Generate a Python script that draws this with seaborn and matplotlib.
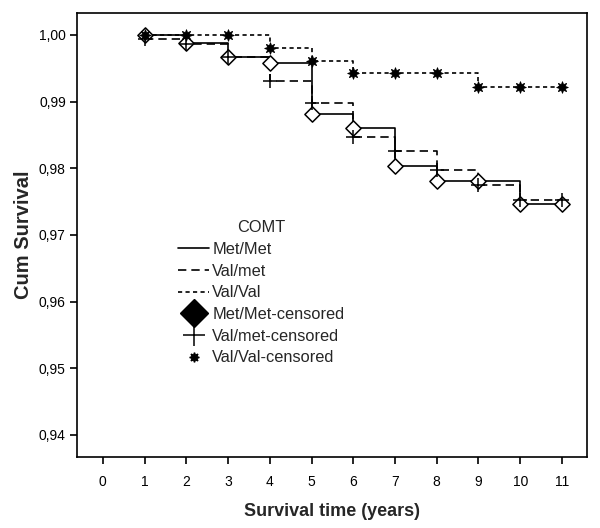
import matplotlib
matplotlib.use("Agg")
import matplotlib.pyplot as plt
from matplotlib.lines import Line2D
import seaborn as sns
import pandas as pd

years = [1, 2, 3, 4, 5, 6, 7, 8, 9, 10, 11]
met_met = [1.0, 0.9988, 0.99675, 0.99575, 0.9881, 0.986, 0.9804, 0.9781, 0.9781, 0.97465, 0.97465]
val_met = [0.9994, 0.99865, 0.99665, 0.9931, 0.98975, 0.98475, 0.9826, 0.9797, 0.97755, 0.97525, 0.97525]
val_val = [1.0, 1.0, 1.0, 0.9981, 0.99615, 0.99425, 0.99425, 0.99425, 0.99225, 0.99225, 0.99225]

x_ticks = list(range(0, 12))
y_ticks = [0.94, 0.95, 0.96, 0.97, 0.98, 0.99, 1.00]
y_tick_labels = ["0,94", "0,95", "0,96", "0,97", "0,98", "0,99", "1,00"]
legend_labels = ["Met/Met", "Val/met", "Val/Val", "Met/Met-censored", "Val/met-censored", "Val/Val-censored"]

sns.set_style("white")
plt.rcParams["font.family"] = ["Liberation Sans", "DejaVu Sans"]

fig = plt.figure(figsize=(6.0, 5.28), dpi=100)
ax = fig.add_axes([0.1283, 0.1345, 0.85, 0.8409])

df = pd.DataFrame({"year": years, "mm": met_met, "vm": val_met, "vv": val_val})

lw = 1.2
sns.lineplot(data=df, x="year", y="mm", ax=ax, color="black", lw=lw,
             drawstyle="steps-post", linestyle="-", zorder=2)
sns.lineplot(data=df, x="year", y="vm", ax=ax, color="black", lw=lw,
             drawstyle="steps-post", linestyle=(0, (5, 3)), zorder=2)
sns.lineplot(data=df, x="year", y="vv", ax=ax, color="black", lw=lw,
             drawstyle="steps-post", linestyle=(0, (2.5, 2)), zorder=2)

sns.scatterplot(data=df, x="year", y="mm", ax=ax, marker="D", s=60,
                facecolor="white", edgecolor="black", linewidth=1.1, zorder=3)
sns.scatterplot(data=df, x="year", y="vm", ax=ax, marker="+", s=100,
                color="black", linewidth=1.1, zorder=4)
sns.scatterplot(data=df, x="year", y="vv", ax=ax, marker=(8, 1, 0), s=70,
                color="black", edgecolor="black", linewidth=0.6, zorder=4)

ax.set_xlim(-0.62, 11.6)
ax.set_ylim(0.9367, 1.0033)
ax.set_xticks(x_ticks)
ax.set_xticklabels([str(t) for t in x_ticks])
ax.set_yticks(y_ticks)
ax.set_yticklabels(y_tick_labels)
ax.tick_params(axis="both", direction="out", length=5, width=1.2, color="black",
               labelsize=10, labelcolor="black", bottom=True, left=True)
ax.tick_params(axis="x", pad=8)
ax.tick_params(axis="y", pad=3)
for sp in ax.spines.values():
    sp.set_visible(True)
    sp.set_color("black")
    sp.set_linewidth(1.2)

ax.set_xlabel("Survival time (years)", fontsize=13, fontweight="bold", labelpad=10)
ax.set_ylabel("Cum Survival", fontsize=14.5, fontweight="bold", labelpad=4)

handles = [
    Line2D([], [], color="black", lw=lw, linestyle="-"),
    Line2D([], [], color="black", lw=lw, linestyle=(0, (5, 3))),
    Line2D([], [], color="black", lw=lw, linestyle=(0, (2.5, 2))),
    Line2D([], [], color="black", lw=0, marker="D", markersize=14, markerfacecolor="black"),
    Line2D([], [], color="black", lw=0, marker="+", markersize=16, markeredgewidth=1.1),
    Line2D([], [], color="black", lw=0, marker=(8, 1, 0), markersize=7),
]
leg = ax.legend(handles, legend_labels, title="COMT", loc="upper left",
                bbox_to_anchor=(0.198, 0.5335), frameon=False, fontsize=11.8,
                title_fontsize=11.8, handlelength=1.9, handletextpad=0.2,
                labelspacing=0.41, borderaxespad=0, borderpad=0)

fig.savefig("out.png", dpi=100)
